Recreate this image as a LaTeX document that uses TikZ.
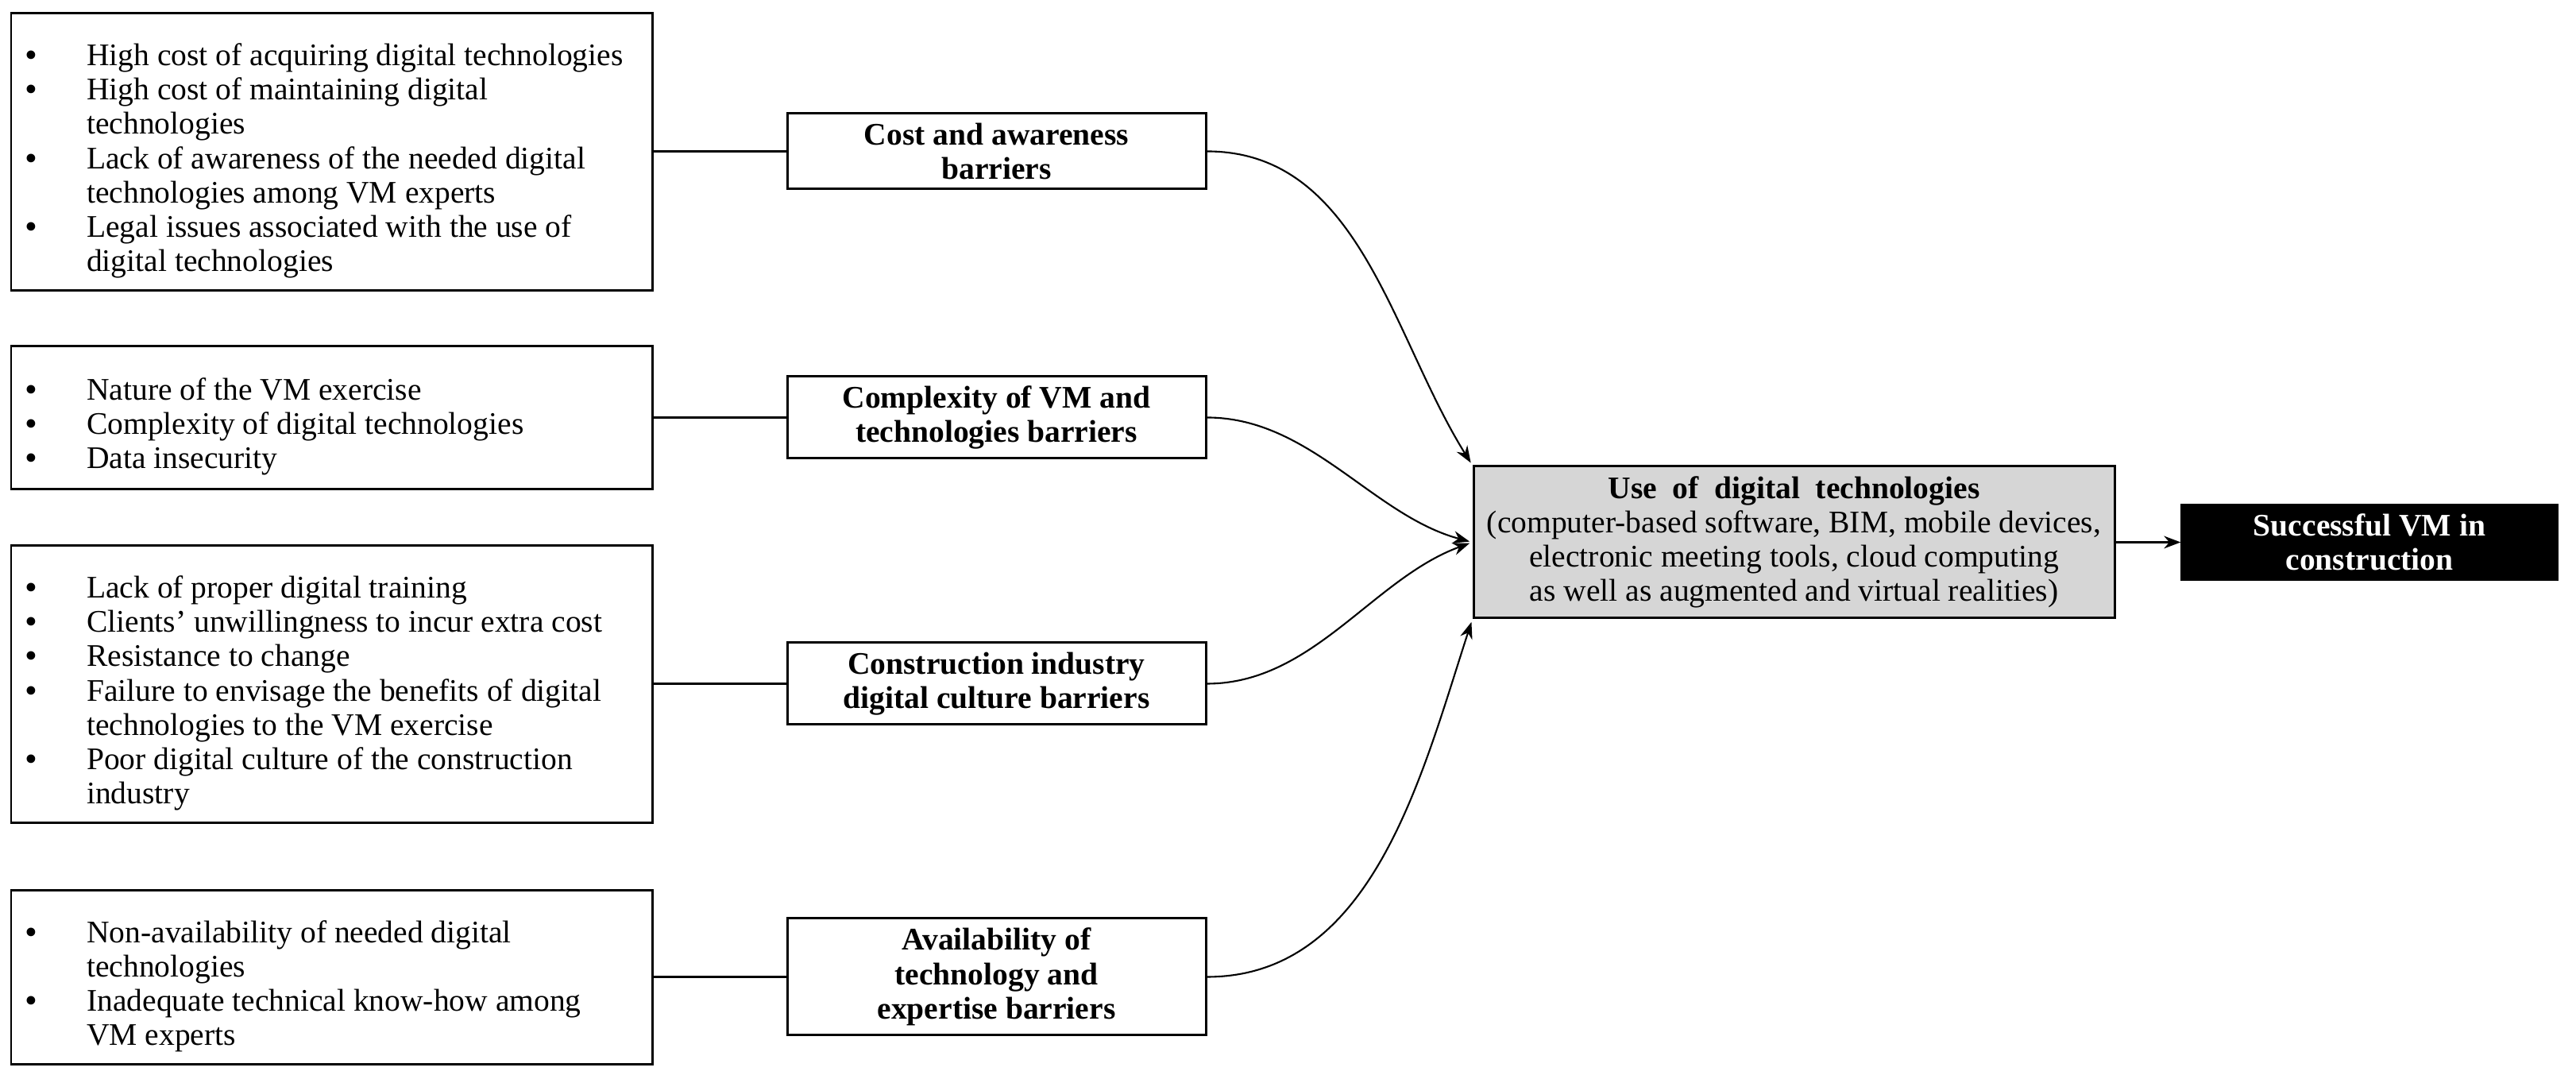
\documentclass[tikz,border=0pt]{standalone}
\usepackage{fontspec}
\setmainfont{Liberation Serif}
\usetikzlibrary{arrows.meta,calc}
\newcommand{\txtsize}{\fontsize{11.25}{12.3}\selectfont}
\newcommand{\bul}{{\bfseries\textbullet}}
\begin{document}
\begin{tikzpicture}[
  lbox/.style={draw, line width=0.85pt, inner sep=0pt, minimum width=8.07cm},
  ltext/.style={anchor=west, inner sep=0pt, font=\txtsize, align=left},
  mbox/.style={draw, line width=0.85pt, inner sep=0pt, minimum width=5.27cm, align=center, font=\txtsize\bfseries},
  link/.style={line width=0.85pt},
  curv/.style={line width=0.6pt, -{Stealth[length=6pt,width=4.5pt]}, shorten >=1pt}
]
\useasboundingbox (0,0) rectangle (32.43,13.58);

% left boxes
\node[lbox, minimum height=3.49cm] (b1) at (4.175,11.665) {};
\node[lbox, minimum height=1.80cm] (b2) at (4.175,8.32) {};
\node[lbox, minimum height=3.49cm] (b3) at (4.175,4.965) {};
\node[lbox, minimum height=2.19cm] (b4) at (4.175,1.275) {};

\node[ltext] (t1) at ($(b1.west)+(0.19,-0.12)$) {\begin{tabular}{@{}p{0.77cm}@{}l@{}}
\bul & High cost of acquiring digital technologies\\
\bul & High cost of maintaining digital\\
 & technologies\\
\bul & Lack of awareness of the needed digital\\
 & technologies among VM experts\\
\bul & Legal issues associated with the use of\\
 & digital technologies
\end{tabular}};
\node[ltext] (t2) at ($(b2.west)+(0.19,-0.12)$) {\begin{tabular}{@{}p{0.77cm}@{}l@{}}
\bul & Nature of the VM exercise\\
\bul & Complexity of digital technologies\\
\bul & Data insecurity
\end{tabular}};
\node[ltext] (t3) at ($(b3.west)+(0.19,-0.12)$) {\begin{tabular}{@{}p{0.77cm}@{}l@{}}
\bul & Lack of proper digital training\\
\bul & Clients’ unwillingness to incur extra cost\\
\bul & Resistance to change\\
\bul & Failure to envisage the benefits of digital\\
 & technologies to the VM exercise\\
\bul & Poor digital culture of the construction\\
 & industry
\end{tabular}};
\node[ltext] (t4) at ($(b4.west)+(0.19,-0.12)$) {\begin{tabular}{@{}p{0.77cm}@{}l@{}}
\bul & Non-availability of needed digital\\
 & technologies\\
\bul & Inadequate technical know-how among\\
 & VM experts
\end{tabular}};

% middle boxes
\node[mbox, minimum height=0.95cm] (m1) at (12.545,11.675) {Cost and awareness\\barriers};
\node[mbox, minimum height=1.03cm] (m2) at (12.545,8.325) {Complexity of VM and\\technologies barriers};
\node[mbox, minimum height=1.03cm] (m3) at (12.545,4.975) {Construction industry\\digital culture barriers};
\node[mbox, minimum height=1.47cm] (m4) at (12.545,1.285) {Availability of\\technology and\\expertise barriers};

% centre box
\node[draw, line width=0.85pt, fill=black!16, inner sep=0pt, minimum width=8.07cm, minimum height=1.91cm, align=center, font=\txtsize] (c) at (22.585,6.755)
 {{\bfseries Use\ \ of\ \ digital\ \ technologies}\\(computer-based software, BIM, mobile devices,\\electronic meeting tools, cloud computing\\as well as augmented and virtual realities)};

% result box
\node[draw, fill=black, text=white, inner sep=0pt, minimum width=4.74cm, minimum height=0.95cm, align=center, font=\txtsize\bfseries] (r) at (29.83,6.755) {Successful VM in\\construction};

% connectors
\draw[link] (b1.east |- m1.west) -- (m1.west);
\draw[link] (b2.east |- m2.west) -- (m2.west);
\draw[link] (b3.east |- m3.west) -- (m3.west);
\draw[link] (b4.east |- m4.west) -- (m4.west);

\draw[curv] (m1.east) to[out=0, in=122, looseness=0.95] (c.north west);
\draw[curv] (m2.east) to[out=0, in=165, looseness=0.9] (c.west);
\draw[curv] (m3.east) to[out=0, in=200, looseness=0.9] (c.west);
\draw[curv] (m4.east) to[out=0, in=252, looseness=0.95] (c.south west);
\draw[line width=0.6pt, -{Stealth[length=6pt,width=4.5pt]}] (c.east) -- (r.west);
\end{tikzpicture}
\end{document}
